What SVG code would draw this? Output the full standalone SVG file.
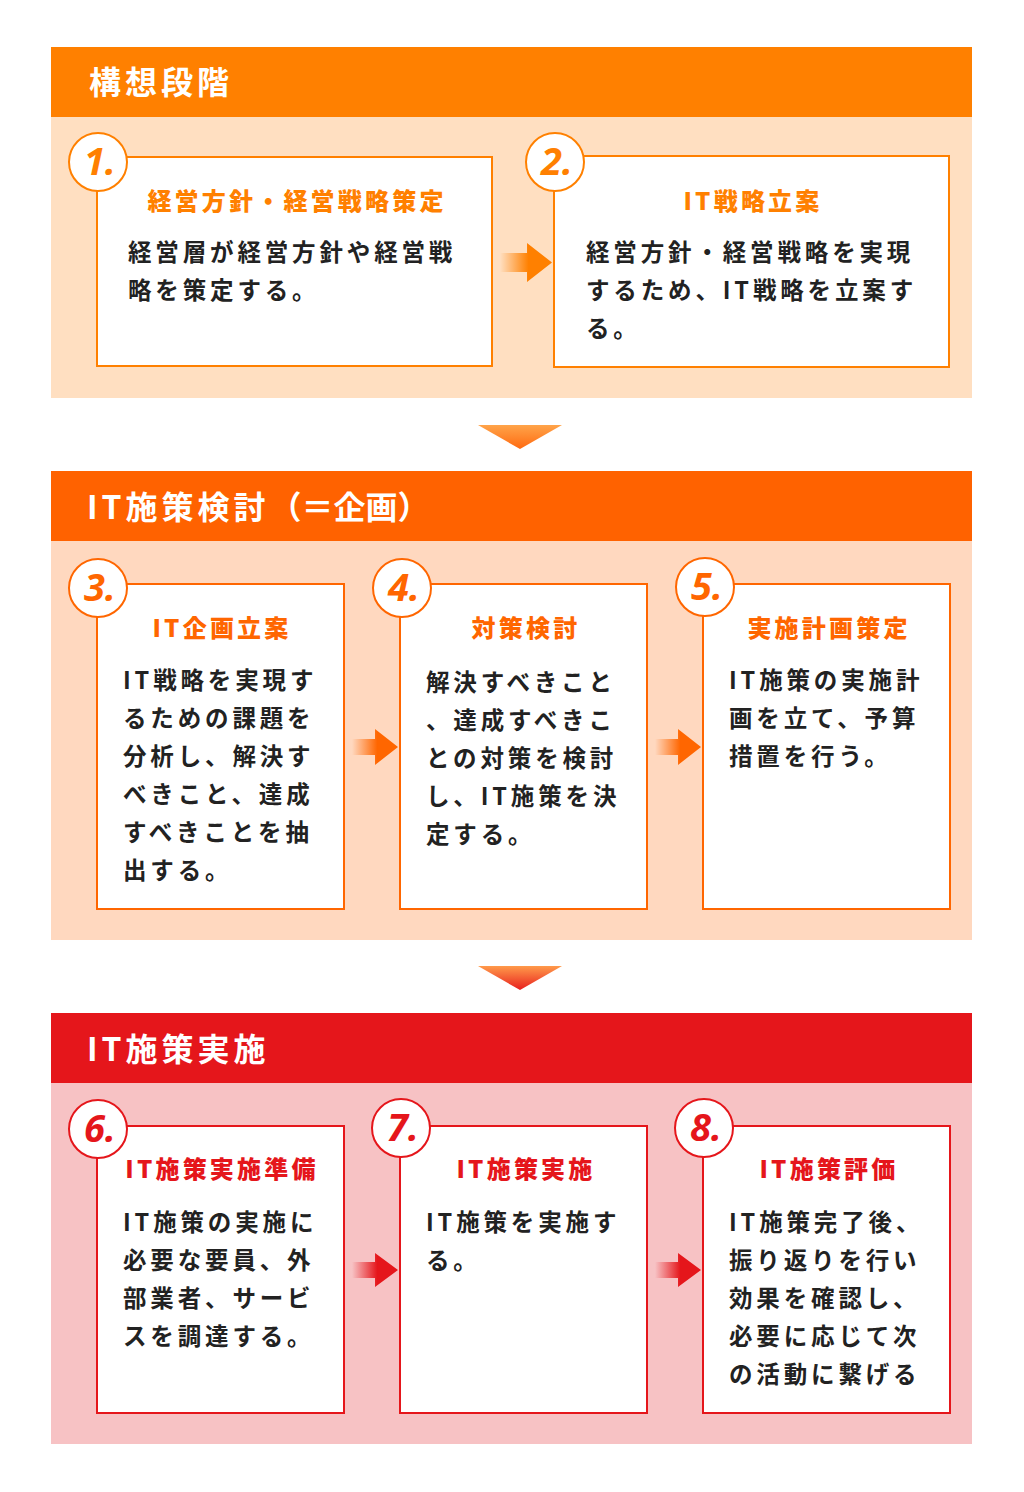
<svg xmlns="http://www.w3.org/2000/svg" width="1024" height="1492" viewBox="0 0 1024 1492">
<defs>
<style>
.hdr{font-family:"Noto Sans CJK JP","Noto Sans",sans-serif;font-weight:700;font-size:32px;fill:#fff;letter-spacing:4px}
.tight{letter-spacing:0}
.ttl{font-family:"Noto Sans CJK JP","Noto Sans",sans-serif;font-weight:900;font-size:24px;letter-spacing:3.2px;text-anchor:middle}
.bd{font-family:"Noto Sans CJK JP","Noto Sans",sans-serif;font-weight:700;font-size:23.5px;fill:#222;letter-spacing:3.85px}
.num{font-family:"Noto Sans","DejaVu Sans",sans-serif;font-weight:700;font-style:italic;font-size:38px;text-anchor:middle}
.o1{stroke:#ff8000;fill:#fff;stroke-width:2}
.o2{stroke:#ff6600;fill:#fff;stroke-width:2}
.o3{stroke:#e5161b;fill:#fff;stroke-width:2}
.c1{fill:#ff8000}
.c2{fill:#ff6600}
.c3{fill:#e5161b}
</style>
<linearGradient id="ga1" x1="0" y1="0" x2="1" y2="0"><stop offset="0" stop-color="#ff8000" stop-opacity="0"/><stop offset="0.55" stop-color="#ff8000"/></linearGradient>
<linearGradient id="ga2" x1="0" y1="0" x2="1" y2="0"><stop offset="0" stop-color="#ff6600" stop-opacity="0"/><stop offset="0.55" stop-color="#ff6600"/></linearGradient>
<linearGradient id="ga3" x1="0" y1="0" x2="1" y2="0"><stop offset="0" stop-color="#e5161b" stop-opacity="0"/><stop offset="0.55" stop-color="#e5161b"/></linearGradient>
<linearGradient id="gt1" x1="0" y1="0" x2="0" y2="1"><stop offset="0" stop-color="#ffa44a"/><stop offset="1" stop-color="#ff6a10"/></linearGradient>
<linearGradient id="gt2" x1="0" y1="0" x2="0" y2="1"><stop offset="0" stop-color="#ff9a4a"/><stop offset="1" stop-color="#e8201e"/></linearGradient>
</defs>

<!-- Section backgrounds -->
<g id="section1">
<rect x="51" y="47" width="921" height="70" fill="#ff8000"/>
<rect x="51" y="117" width="921" height="281" fill="#ffdfc1"/>
<text class="hdr" x="89" y="94">構想段階</text>
</g>
<g id="section2">
<rect x="51" y="471" width="921" height="70" fill="#ff6200"/>
<rect x="51" y="541" width="921" height="399" fill="#ffd8bf"/>
<text class="hdr" x="87" y="519">IT施策検討<tspan class="tight">（＝企画）</tspan></text>
</g>
<g id="section3">
<rect x="51" y="1013" width="921" height="70" fill="#e5161b"/>
<rect x="51" y="1083" width="921" height="361" fill="#f7c2c4"/>
<text class="hdr" x="87" y="1061">IT施策実施</text>
</g>

<!-- Connectors -->
<g id="connectors">
<path d="M500 253 H527 V243 L552 262.5 L527 282 V272 H500 Z" fill="url(#ga1)"/>
<polygon points="478,425 562,425 520,449" fill="url(#gt1)"/>
<path d="M352 739 H375 V729 L398 747 L375 765 V755 H352 Z" fill="url(#ga2)"/>
<path d="M655 739 H678 V729 L701 747 L678 765 V755 H655 Z" fill="url(#ga2)"/>
<polygon points="478,966 562,966 520,990" fill="url(#gt2)"/>
<path d="M352 1262 H375 V1253 L398 1270 L375 1287 V1278 H352 Z" fill="url(#ga3)"/>
<path d="M655 1262 H678 V1253 L701 1270 L678 1287 V1278 H655 Z" fill="url(#ga3)"/>
</g>

<!-- Step 1 -->
<g id="step1">
<rect class="o1" x="97" y="157" width="395" height="209"/>
<circle class="o1" cx="98" cy="162" r="29"/>
<text class="num c1" x="100" y="175">1.</text>
<text class="ttl c1" x="297" y="210">経営方針・経営戦略策定</text>
<text class="bd" x="128" y="261">経営層が経営方針や経営戦</text>
<text class="bd" x="128" y="299">略を策定する。</text>
</g>
<!-- Step 2 -->
<g id="step2">
<rect class="o1" x="554" y="156" width="395" height="211"/>
<circle class="o1" cx="555" cy="162" r="29"/>
<text class="num c1" x="557" y="175">2.</text>
<text class="ttl c1" x="753" y="210">IT戦略立案</text>
<text class="bd" x="586" y="261">経営方針・経営戦略を実現</text>
<text class="bd" x="586" y="299">するため、IT戦略を立案す</text>
<text class="bd" x="586" y="337">る。</text>
</g>
<!-- Step 3 -->
<g id="step3">
<rect class="o2" x="97" y="584" width="247" height="325"/>
<circle class="o2" cx="98" cy="588" r="29"/>
<text class="num c2" x="100" y="601">3.</text>
<text class="ttl c2" x="222" y="637">IT企画立案</text>
<text class="bd" x="123" y="689">IT戦略を実現す</text>
<text class="bd" x="123" y="727">るための課題を</text>
<text class="bd" x="123" y="765">分析し、解決す</text>
<text class="bd" x="123" y="803">べきこと、達成</text>
<text class="bd" x="123" y="841">すべきことを抽</text>
<text class="bd" x="123" y="879">出する。</text>
</g>
<!-- Step 4 -->
<g id="step4">
<rect class="o2" x="400" y="584" width="247" height="325"/>
<circle class="o2" cx="402" cy="588" r="29"/>
<text class="num c2" x="404" y="601">4.</text>
<text class="ttl c2" x="526" y="637">対策検討</text>
<text class="bd" x="426" y="691">解決すべきこと</text>
<text class="bd" x="426" y="729">、達成すべきこ</text>
<text class="bd" x="426" y="767">との対策を検討</text>
<text class="bd" x="426" y="805">し、IT施策を決</text>
<text class="bd" x="426" y="843">定する。</text>
</g>
<!-- Step 5 -->
<g id="step5">
<rect class="o2" x="703" y="584" width="247" height="325"/>
<circle class="o2" cx="705" cy="587" r="29"/>
<text class="num c2" x="707" y="600">5.</text>
<text class="ttl c2" x="829" y="637">実施計画策定</text>
<text class="bd" x="729" y="689">IT施策の実施計</text>
<text class="bd" x="729" y="727">画を立て、予算</text>
<text class="bd" x="729" y="765">措置を行う。</text>
</g>
<!-- Step 6 -->
<g id="step6">
<rect class="o3" x="97" y="1126" width="247" height="287"/>
<circle class="o3" cx="98" cy="1129" r="29"/>
<text class="num c3" x="100" y="1142">6.</text>
<text class="ttl c3" x="222" y="1178">IT施策実施準備</text>
<text class="bd" x="123" y="1231">IT施策の実施に</text>
<text class="bd" x="123" y="1269">必要な要員、外</text>
<text class="bd" x="123" y="1307">部業者、サービ</text>
<text class="bd" x="123" y="1345">スを調達する。</text>
</g>
<!-- Step 7 -->
<g id="step7">
<rect class="o3" x="400" y="1126" width="247" height="287"/>
<circle class="o3" cx="401" cy="1128" r="29"/>
<text class="num c3" x="403" y="1141">7.</text>
<text class="ttl c3" x="526" y="1178">IT施策実施</text>
<text class="bd" x="426" y="1231">IT施策を実施す</text>
<text class="bd" x="426" y="1269">る。</text>
</g>
<!-- Step 8 -->
<g id="step8">
<rect class="o3" x="703" y="1126" width="247" height="287"/>
<circle class="o3" cx="704" cy="1128" r="29"/>
<text class="num c3" x="706" y="1141">8.</text>
<text class="ttl c3" x="829" y="1178">IT施策評価</text>
<text class="bd" x="729" y="1231">IT施策完了後、</text>
<text class="bd" x="729" y="1269">振り返りを行い</text>
<text class="bd" x="729" y="1307">効果を確認し、</text>
<text class="bd" x="729" y="1345">必要に応じて次</text>
<text class="bd" x="729" y="1383">の活動に繋げる</text>
</g>
</svg>
